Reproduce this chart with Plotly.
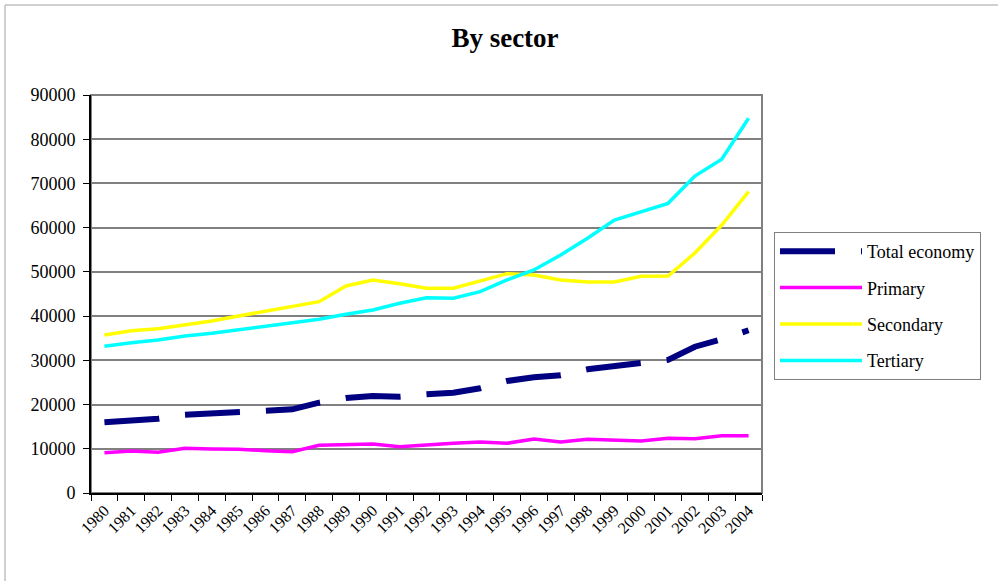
import plotly.graph_objects as go

years = [str(y) for y in range(1980, 2005)]
total_economy = [15990, 16510, 16800, 17710, 18020, 18320, 18540, 18920, 20420, 21480,
                 21940, 21790, 22320, 22690, 23670, 25330, 26160, 26610, 27970, 28720,
                 29330, 30100, 33080, 34750, 36800]
primary = [9120, 9500, 9200, 10100, 9950, 9870, 9570, 9340, 10790, 10860,
           11080, 10470, 10920, 11240, 11530, 11240, 12210, 11530, 12140, 11990,
           11760, 12370, 12280, 12960, 12960]
secondary = [35730, 36700, 37150, 37990, 38900, 40030, 41160, 42130, 43260, 46810,
             48170, 47300, 46300, 46300, 48000, 49600, 49300, 48170, 47700, 47700,
             49000, 49070, 54270, 60600, 68130]
tertiary = [33170, 33990, 34600, 35500, 36110, 36860, 37610, 38370, 39280, 40410,
            41380, 42890, 44150, 44030, 45520, 48170, 50430, 53820, 57600, 61730,
            63620, 65500, 71680, 75460, 84730]
y_ticks = [0, 10000, 20000, 30000, 40000, 50000, 60000, 70000, 80000, 90000]

FONT = "Liberation Serif"

fig = go.Figure()
fig.add_trace(go.Scatter(x=years, y=total_economy, name="Total economy", mode="lines",
                         legendgroup="a",
                         line=dict(color="#000080", width=6, dash="55px,26px")))
fig.add_trace(go.Scatter(x=years, y=primary, name="Primary", mode="lines",
                         legendgroup="b",
                         line=dict(color="#FF00FF", width=3.5)))
fig.add_trace(go.Scatter(x=years, y=secondary, name="Secondary", mode="lines",
                         legendgroup="c",
                         line=dict(color="#FFFF00", width=3.5)))
fig.add_trace(go.Scatter(x=years, y=tertiary, name="Tertiary", mode="lines",
                         legendgroup="d",
                         line=dict(color="#00FFFF", width=3.5)))

L, R, T, B = 91, 762, 95, 493
W, H = 998, 581
pw, ph = R - L, B - T

def px_x(p):
    return (p - L) / pw

def px_y(p):
    return (B - p) / ph

shapes = [
    dict(type="rect", xref="paper", yref="paper", x0=0, x1=1, y0=0, y1=1,
         line=dict(color="#808080", width=2), layer="below"),
    dict(type="line", xref="paper", yref="paper", x0=px_x(5), x1=px_x(W), y0=px_y(5), y1=px_y(5),
         line=dict(color="#c0c0c0", width=1.5)),
    dict(type="line", xref="paper", yref="paper", x0=px_x(5), x1=px_x(5), y0=px_y(5), y1=px_y(H),
         line=dict(color="#c0c0c0", width=1.5)),
]

fig.update_layout(
    width=W, height=H,
    margin=dict(l=L, r=W - R, t=T, b=H - B),
    paper_bgcolor="white", plot_bgcolor="white",
    font=dict(family=FONT, color="black", size=17),
    title=dict(text="<b>By sector</b>", x=505 / W, xanchor="center",
               y=1 - 38 / H, yanchor="middle",
               font=dict(family=FONT, size=27, color="black")),
    showlegend=True,
    legend=dict(x=px_x(774), y=px_y(232), xanchor="left", yanchor="top",
                bordercolor="#808080", borderwidth=1, bgcolor="white",
                font=dict(family=FONT, size=18, color="black"),
                itemwidth=82, tracegroupgap=10),
    shapes=shapes,
)
fig.update_xaxes(type="category", range=[-0.5, 24.5], tickson="boundaries",
                 ticks="outside", ticklen=6, tickcolor="black", tickwidth=1,
                 showline=True, linecolor="black", linewidth=2, showgrid=False,
                 tickangle=-45, tickfont=dict(family=FONT, size=16, color="black"),
                 zeroline=False)
fig.update_yaxes(range=[0, 90000], tickvals=y_ticks, tickformat="d",
                 ticks="outside", ticklen=6, tickcolor="black", tickwidth=1,
                 showline=True, linecolor="black", linewidth=2,
                 showgrid=True, gridcolor="#808080", gridwidth=1.5,
                 zeroline=False, ticklabelstandoff=4,
                 tickfont=dict(family=FONT, size=18, color="black"))

fig.write_html("out.html", config={"displayModeBar": False},
               post_script="document.body.style.margin='0px';")
